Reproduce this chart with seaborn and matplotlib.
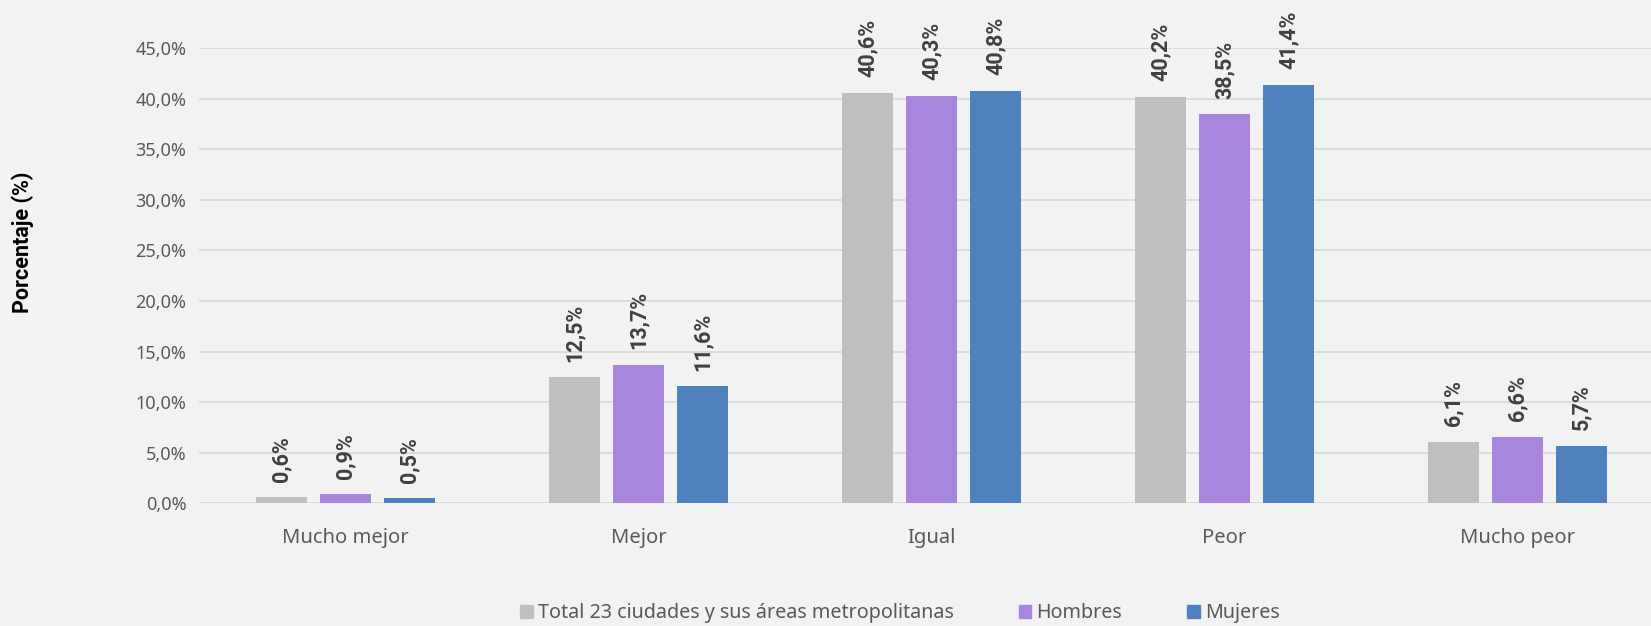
import matplotlib
matplotlib.use("Agg")
import matplotlib.pyplot as plt
import pandas as pd
import seaborn as sns
from matplotlib.ticker import FuncFormatter

categories = ["Mucho mejor", "Mejor", "Igual", "Peor", "Mucho peor"]
series = ["Total 23 ciudades y sus áreas metropolitanas", "Hombres", "Mujeres"]
total = [0.6, 12.5, 40.6, 40.2, 6.1]
hombres = [0.9, 13.7, 40.3, 38.5, 6.6]
mujeres = [0.5, 11.6, 40.8, 41.4, 5.7]
colors = ["#BFBFBF", "#A886DB", "#4F81BD"]

BOLD_FONT = ["Roboto", "Liberation Sans", "DejaVu Sans"]

def pct(v):
    return f"{v:.1f}%".replace(".", ",")

def main():
    df = pd.DataFrame({
        "cat": categories * 3,
        "serie": [series[0]] * 5 + [series[1]] * 5 + [series[2]] * 5,
        "val": total + hombres + mujeres,
    })

    sns.set_theme(style="white")
    plt.rcParams["font.family"] = ["Noto Sans", "DejaVu Sans"]
    bg = "#F2F2F2"
    fig = plt.figure(figsize=(16.51, 6.26), dpi=100, facecolor=bg)
    ax = fig.add_axes([0.1205, 0.196, 0.8795, 0.727], facecolor=bg)

    sns.barplot(data=df, x="cat", y="val", hue="serie", palette=colors,
                width=0.655, gap=0.2, ax=ax, legend=False, saturation=1,
                linewidth=0)

    for cont in ax.containers:
        ax.bar_label(cont, labels=[pct(v) for v in cont.datavalues], rotation=90,
                     padding=11, fontsize=15.5, fontweight="bold", color="#404040",
                     family=BOLD_FONT)

    ax.set_xlim(-0.5, 4.456)
    ax.set_ylim(0, 45)
    ax.set_yticks(range(0, 50, 5))
    ax.yaxis.set_major_formatter(FuncFormatter(lambda v, p: pct(v)))
    ax.grid(axis="y", color="#D9D9D9", linewidth=1.3)
    ax.set_axisbelow(True)
    for s in ax.spines.values():
        s.set_visible(False)
    ax.tick_params(axis="y", length=0, labelsize=13, labelcolor="#595959", pad=9)
    ax.tick_params(axis="x", length=0, labelsize=14.5, labelcolor="#595959", pad=18)
    ax.set_xlabel("")
    ax.set_ylabel("")
    fig.text(0.014, 0.613, "Porcentaje (%)", rotation=90, ha="center", va="center",
             fontsize=15.5, fontweight="bold", color="#000000", family=BOLD_FONT)

    handles = [plt.Rectangle((0, 0), 1, 1, color=c) for c in colors]
    fig.legend(handles, series, loc="center", bbox_to_anchor=(0.545, 0.02), ncol=3,
               frameon=False, fontsize=14.2, labelcolor="#595959",
               handlelength=0.65, handleheight=0.65, handletextpad=0.25, columnspacing=3.3)

    fig.savefig("out.png", dpi=100, facecolor=bg)

main()
